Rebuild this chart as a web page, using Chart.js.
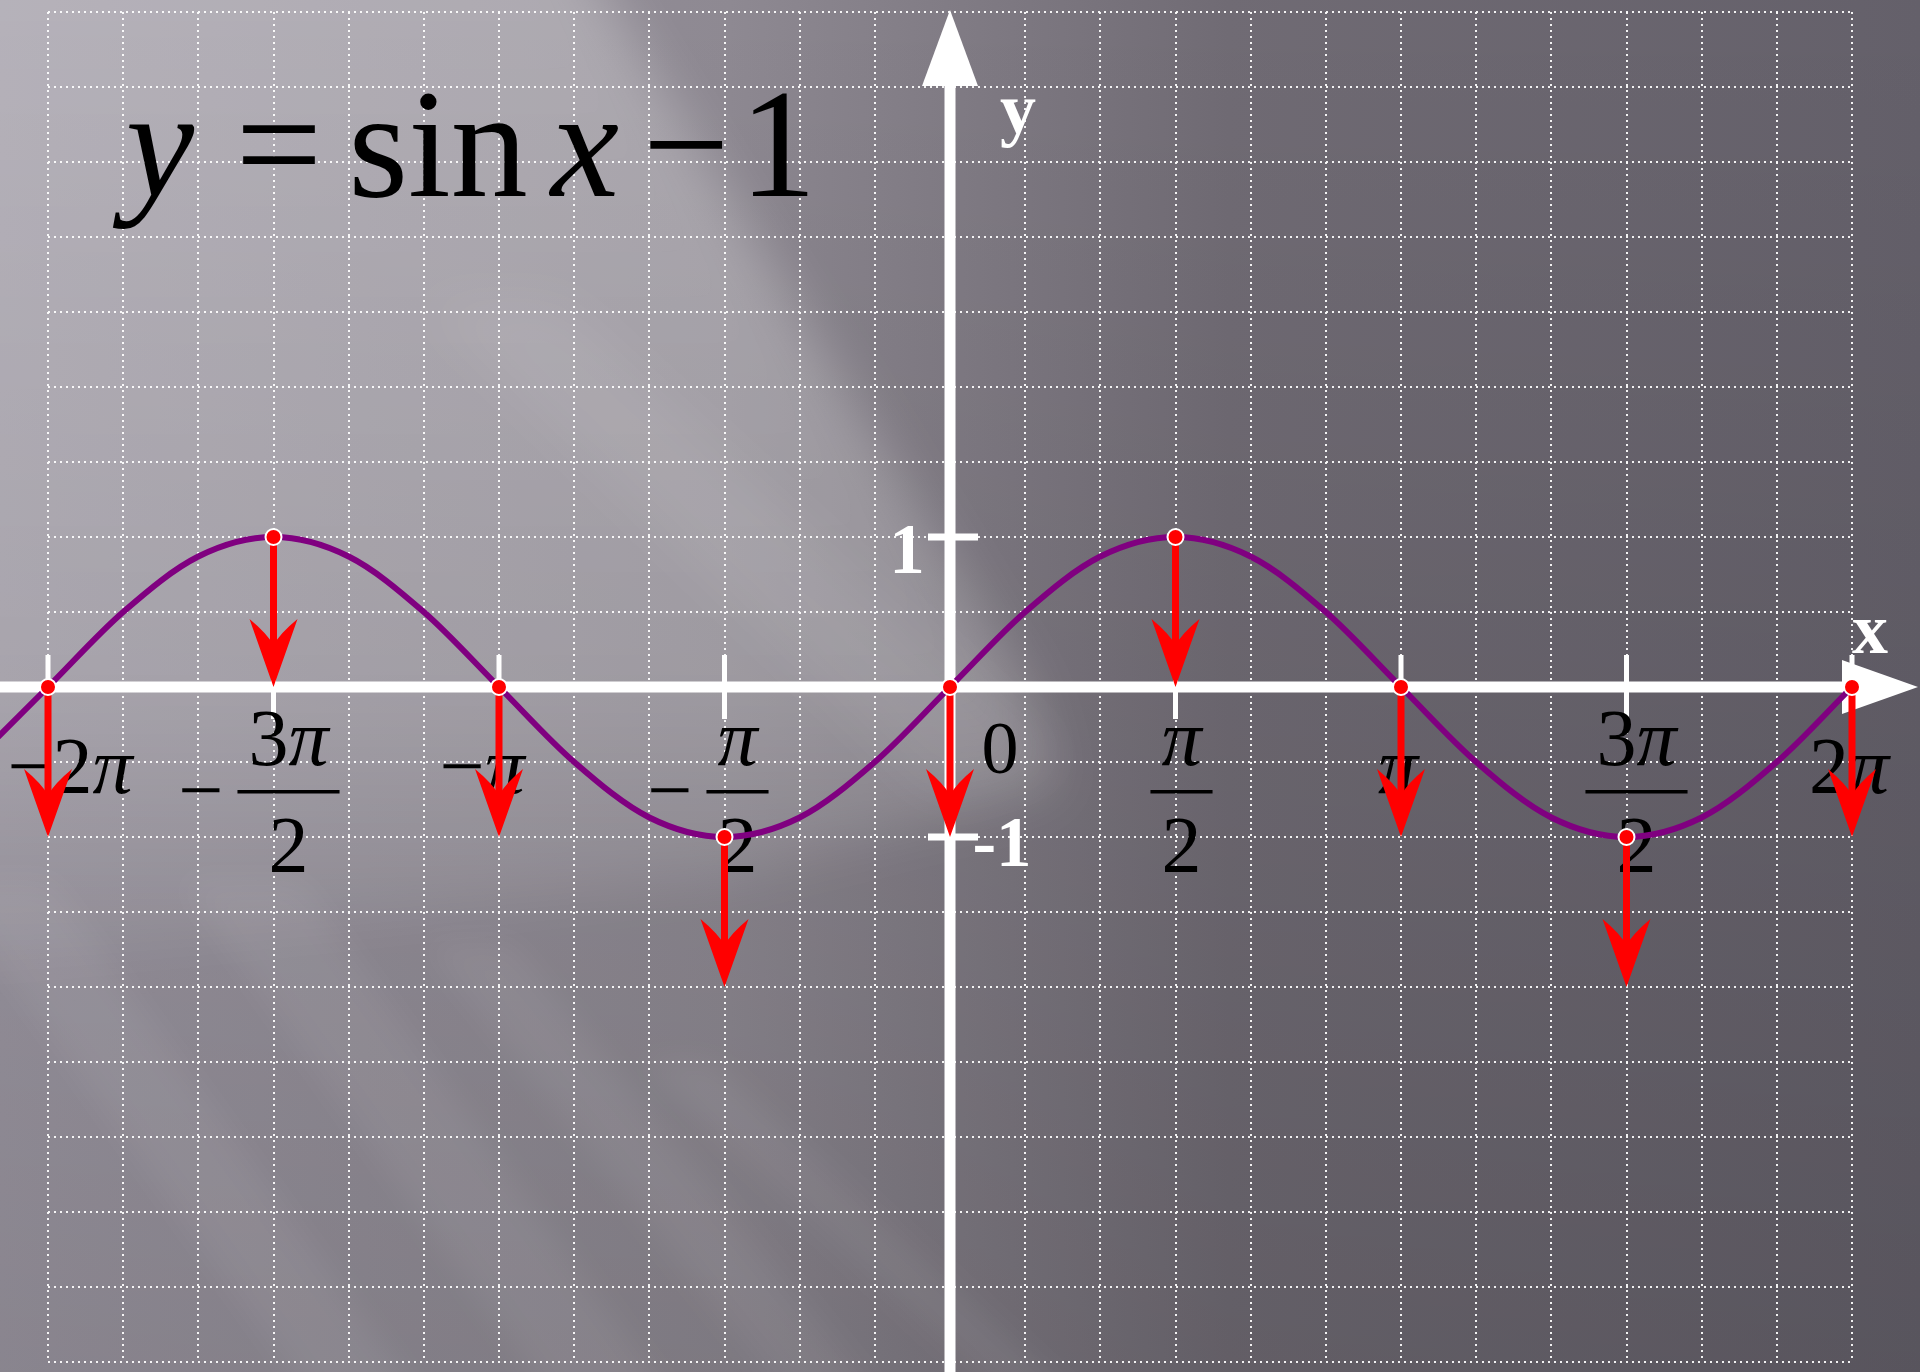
<!DOCTYPE html>
<html>
<head>
<meta charset="utf-8">
<title>y = sin x − 1</title>
<script src="https://cdn.jsdelivr.net/npm/chart.js@4.4.1/dist/chart.umd.min.js"></script>
<style>
    html, body { margin: 0; padding: 0; background: #6e6a71; overflow: hidden; }
    #wrap { width: 1920px; height: 1372px; position: relative; }
</style>
</head>
<body>
<div id="wrap"><canvas id="sinChart" width="1920" height="1372"></canvas></div>
<script>
    const PI = Math.PI;

    // purple curve y = sin x, read every pi/6 (x given in steps of pi/6)
    const curveSteps = [-13, -12, -11, -10, -9, -8, -7, -6, -5, -4, -3, -2, -1, 0,
        1, 2, 3, 4, 5, 6, 7, 8, 9, 10, 11, 12, 13];
    const curveValues = [-0.5, 0, 0.5, 0.87, 1, 0.87, 0.5, 0, -0.5, -0.87, -1, -0.87, -0.5, 0,
        0.5, 0.87, 1, 0.87, 0.5, 0, -0.5, -0.87, -1, -0.87, -0.5, 0, 0.5];

    // red points and the shift arrows (sin x  ->  sin x - 1)
    const arrowSteps = [-12, -9, -6, -3, 0, 3, 6, 9, 12];
    const arrowStart = [0, 1, 0, -1, 0, 1, 0, -1, 0];
    const arrowEnd = [-1, 0, -1, -2, -1, 0, -1, -2, -1];

    // x tick labels
    const tickSteps = [-12, -9, -6, -3, 3, 6, 9, 12];
    const tickSign = ['−', '−', '−', '−', '', '', '', ''];
    const tickNumer = ['2π', '3π', 'π', 'π', 'π', 'π', '3π', '2π'];
    const tickDenom = ['', '2', '', '2', '2', '', '2', ''];

    // y tick labels
    const yTickValues = [1, -1];
    const yTickText = ['1', '-1'];

    // dotted grid
    const gridStepsX = [-12, -11, -10, -9, -8, -7, -6, -5, -4, -3, -2, -1, 0,
        1, 2, 3, 4, 5, 6, 7, 8, 9, 10, 11, 12];
    const gridValuesY = [-4.5, -4, -3.5, -3, -2.5, -2, -1.5, -1, -0.5, 0,
        0.5, 1, 1.5, 2, 2.5, 3, 3.5, 4, 4.5];

    const SERIF = '"Liberation Serif", "Times New Roman", serif';

    function drawRich(ctx, text, cx, baseline, size) {
        const parts = Array.from(text).map(function (ch) {
            return { ch: ch, font: (ch === 'π' ? 'italic ' : '') + size + 'px ' + SERIF };
        });
        let total = 0;
        parts.forEach(function (p) {
            ctx.font = p.font;
            p.w = ctx.measureText(p.ch).width;
            total += p.w;
        });
        let x = cx - total / 2;
        ctx.textAlign = 'left';
        parts.forEach(function (p) {
            ctx.font = p.font;
            ctx.fillText(p.ch, x, baseline);
            x += p.w;
        });
        return total;
    }

    function polygon(ctx, pts) {
        ctx.beginPath();
        ctx.moveTo(pts[0][0], pts[0][1]);
        for (let i = 1; i < pts.length; i++) {
            ctx.lineTo(pts[i][0], pts[i][1]);
        }
        ctx.closePath();
        ctx.fill();
    }

    const backgroundPlugin = {
        id: 'slideBackground',
        beforeDraw(chart) {
            const ctx = chart.ctx;
            const w = chart.width;
            const h = chart.height;
            ctx.save();
            const base = ctx.createLinearGradient(0, 0, w, 0);
            base.addColorStop(0, '#9c97a2');
            base.addColorStop(0.38, '#8e8992');
            base.addColorStop(0.64, '#706b74');
            base.addColorStop(1, '#64606a');
            ctx.fillStyle = base;
            ctx.fillRect(0, 0, w, h);

            const dark = ctx.createLinearGradient(0, 0, 0, h);
            dark.addColorStop(0, 'rgba(0,0,0,0)');
            dark.addColorStop(1, 'rgba(0,0,0,0.12)');
            ctx.fillStyle = dark;
            ctx.fillRect(0, 0, w, h);

            // light area in the upper left, edge running down to the origin
            ctx.filter = 'blur(26px)';
            const light = ctx.createLinearGradient(0, 0, 0, 980);
            light.addColorStop(0, 'rgba(255,255,255,0.26)');
            light.addColorStop(0.7, 'rgba(255,255,255,0.2)');
            light.addColorStop(1, 'rgba(255,255,255,0.02)');
            ctx.fillStyle = light;
            polygon(ctx, [[-80, -80], [560, -80], [1030, 690], [1060, 790], [720, 880], [-80, 980]]);

            // brighter stripe crossing toward the origin
            ctx.fillStyle = 'rgba(255,255,255,0.07)';
            polygon(ctx, [[420, 300], [560, 300], [1060, 760], [940, 800]]);

            // streaks in the lower left
            ctx.filter = 'blur(16px)';
            ctx.fillStyle = 'rgba(255,255,255,0.06)';
            [[-60, 880, 110], [180, 880, 120], [420, 940, 90], [640, 1060, 70]].forEach(function (s) {
                polygon(ctx, [[s[0], s[1]], [s[0] + s[2], s[1]],
                    [s[0] + s[2] + 380, h + 40], [s[0] + 380, h + 40]]);
            });
            ctx.restore();
        }
    };

    // nudges of the x labels relative to their tick (layout only)
    const labelNudge = [22, 15, -17, 13, 6, -3, 10, -3];

    const axesPlugin = {
        id: 'whiteAxes',
        beforeDatasetsDraw(chart) {
            const ctx = chart.ctx;
            const xs = chart.scales.x;
            const ys = chart.scales.y;
            const x0 = xs.getPixelForValue(0);
            const y0 = ys.getPixelForValue(0);
            const w = chart.width;
            const h = chart.height;
            ctx.save();
            ctx.fillStyle = '#ffffff';

            // x axis + arrow
            ctx.fillRect(0, y0 - 5.5, w - 76, 11);
            ctx.beginPath();
            ctx.moveTo(w - 78, y0 - 27);
            ctx.lineTo(w - 2, y0);
            ctx.lineTo(w - 78, y0 + 27);
            ctx.closePath();
            ctx.fill();

            // y axis + arrow
            ctx.fillRect(x0 - 5.5, 84, 11, h - 84);
            ctx.beginPath();
            ctx.moveTo(x0 - 28, 86);
            ctx.lineTo(x0, 10);
            ctx.lineTo(x0 + 28, 86);
            ctx.closePath();
            ctx.fill();

            // x ticks
            tickSteps.forEach(function (k) {
                const px = xs.getPixelForValue(k * PI / 6);
                ctx.fillRect(px - 2.5, y0 - 32, 5, 64);
            });
            // y ticks
            yTickValues.forEach(function (v) {
                const py = ys.getPixelForValue(v);
                ctx.fillRect(x0 - 22, py - 3.5, 50, 7);
            });

            // axis names and y labels
            ctx.textBaseline = 'alphabetic';
            ctx.textAlign = 'center';
            ctx.font = 'bold 72px ' + SERIF;
            ctx.fillText('y', x0 + 68, 133);
            ctx.fillText('x', w - 50, 653);
            ctx.font = 'bold 71px ' + SERIF;
            ctx.fillText(yTickText[0], x0 - 43, ys.getPixelForValue(yTickValues[0]) + 36);
            ctx.fillText(yTickText[1], x0 + 52, ys.getPixelForValue(yTickValues[1]) + 29);

            ctx.fillStyle = '#000000';
            ctx.font = '74px ' + SERIF;
            ctx.fillText('0', x0 + 50, 773);

            // x labels with pi
            tickSteps.forEach(function (k, i) {
                const cx = xs.getPixelForValue(k * PI / 6) + labelNudge[i];
                if (!tickDenom[i]) {
                    drawRich(ctx, tickSign[i] + tickNumer[i], cx, 793, 80);
                    return;
                }
                const nw = drawRich(ctx, tickNumer[i], cx, 765, 80);
                const barW = nw + 22;
                ctx.fillRect(cx - barW / 2, 790, barW, 3.5);
                drawRich(ctx, tickDenom[i], cx, 872, 80);
                if (tickSign[i]) {
                    ctx.font = '80px ' + SERIF;
                    ctx.textAlign = 'right';
                    ctx.fillText(tickSign[i], cx - barW / 2 - 14, 817);
                }
            });

            // title
            ctx.textAlign = 'center';
            ctx.font = 'italic 154px ' + SERIF;
            ctx.fillText('y', 160, 196);
            ctx.fillText('x', 585, 196);
            ctx.font = '154px ' + SERIF;
            ctx.fillText('=', 279, 196);
            ctx.fillText('sin', 438, 196);
            ctx.fillText('−', 686, 196);
            ctx.fillText('1', 778, 196);
            ctx.restore();
        },
        afterDatasetDraw(chart, args) {
            if (args.index !== 1) {
                return;
            }
            const ctx = chart.ctx;
            const xs = chart.scales.x;
            const ys = chart.scales.y;
            ctx.save();
            ctx.fillStyle = '#ff0000';
            arrowSteps.forEach(function (k, i) {
                const px = xs.getPixelForValue(k * PI / 6);
                const top = ys.getPixelForValue(arrowStart[i]);
                const tip = ys.getPixelForValue(arrowEnd[i]);
                ctx.fillRect(px - 3.5, top, 7, tip - top - 40);
                ctx.beginPath();
                ctx.moveTo(px, tip);
                ctx.lineTo(px - 24, tip - 68);
                ctx.quadraticCurveTo(px - 7, tip - 54, px, tip - 42);
                ctx.quadraticCurveTo(px + 7, tip - 54, px + 24, tip - 68);
                ctx.closePath();
                ctx.fill();
            });
            ctx.restore();
        }
    };

    const curveData = curveSteps.map(function (k, i) {
        return { x: k * PI / 6, y: curveValues[i] };
    });
    const dotData = arrowSteps.map(function (k, i) {
        return { x: k * PI / 6, y: arrowStart[i] };
    });

    function gridScale(values) {
        return {
            type: 'linear',
            ticks: { display: false },
            grid: {
                color: 'rgba(255,255,255,0.92)',
                lineWidth: 2,
                drawTicks: false
            },
            border: { display: false, dash: [2, 4] },
            afterBuildTicks: function (scale) {
                scale.ticks = values.map(function (v) {
                    return { value: v };
                });
            }
        };
    }

    const xScale = gridScale(gridStepsX.map(function (k) { return k * PI / 6; }));
    xScale.min = -2 * PI;
    xScale.max = 2 * PI;
    xScale.afterFit = function (scale) { scale.height = 0; };

    const yScale = gridScale(gridValuesY);
    yScale.min = -4.5;
    yScale.max = 4.5;
    yScale.afterFit = function (scale) { scale.width = 0; };

    new Chart(document.getElementById('sinChart'), {
        type: 'line',
        data: {
            datasets: [{
                label: 'points',
                data: dotData,
                showLine: false,
                pointRadius: 8,
                pointBackgroundColor: '#ff0000',
                pointBorderColor: '#ffffff',
                pointBorderWidth: 2,
                clip: false,
                order: 0
            }, {
                label: 'y = sin x',
                data: curveData,
                borderColor: '#800080',
                borderWidth: 6,
                pointRadius: 0,
                cubicInterpolationMode: 'monotone',
                fill: false,
                clip: false,
                order: 1
            }]
        },
        options: {
            responsive: false,
            animation: false,
            events: [],
            layout: { padding: { left: 48, right: 68, top: 12, bottom: 3 } },
            plugins: {
                legend: { display: false },
                tooltip: { enabled: false }
            },
            scales: { x: xScale, y: yScale }
        },
        plugins: [backgroundPlugin, axesPlugin]
    });
</script>
</body>
</html>
